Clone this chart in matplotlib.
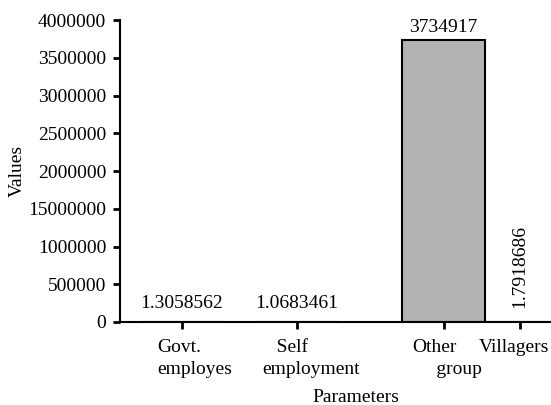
import matplotlib
matplotlib.use("Agg")
import matplotlib.pyplot as plt
from matplotlib.ticker import FixedLocator, FixedFormatter
from matplotlib.transforms import ScaledTranslation

plt.rcParams['font.family'] = ['Liberation Serif', 'DejaVu Serif']

categories = ["Govt.\nemployes", "   Self\nemployment", "Other\n     group", "Villagers"]
values = [1.3058562, 1.0683461, 3734917, 1.7918686]
value_labels = ["1.3058562", "1.0683461", "3734917", "1.7918686"]
ytick_values = [0, 500000, 1000000, 1500000, 2000000, 2500000, 3000000, 3500000, 4000000]
ytick_labels = ["0", "500000", "1000000", "15000000", "2000000", "2500000", "3000000", "3500000", "4000000"]

positions = [62, 177, 323.5, 400]
label_shift_px = [-25, -35, -31, -41]
bar_width = 83

fig = plt.figure(figsize=(5.51, 4.05), dpi=100)
ax = fig.add_axes([120/551, 1 - 322/405, 431/551, 302/405])

ax.bar(positions, values, width=bar_width, color="#b3b3b3", edgecolor="black", linewidth=1.5)

for i, (x, v, lab) in enumerate(zip(positions, values, value_labels)):
    if i == 3:
        ax.annotate(lab, (x, v), xytext=(0, 10), textcoords="offset points",
                    ha="center", va="bottom", rotation=90, fontsize=14)
    elif i == 2:
        ax.annotate(lab, (x, v), xytext=(0, 3), textcoords="offset points",
                    ha="center", va="bottom", fontsize=14)
    else:
        ax.annotate(lab, (x, v), xytext=(0, 7), textcoords="offset points",
                    ha="center", va="bottom", fontsize=14)

ax.set_xlim(0, 431)
ax.set_ylim(0, 4000000)
ax.set_xticks(positions)
ax.set_xticklabels(categories, fontsize=14, linespacing=1.4, ha="left", multialignment="left")
ax.yaxis.set_major_locator(FixedLocator(ytick_values))
ax.yaxis.set_major_formatter(FixedFormatter(ytick_labels))
ax.tick_params(axis='y', labelsize=14, length=5, width=2, pad=5)
ax.tick_params(axis='x', labelsize=14, length=5, width=2, pad=7)

for lbl, dx in zip(ax.get_xticklabels(), label_shift_px):
    lbl.set_transform(lbl.get_transform() + ScaledTranslation(dx/100, 0, fig.dpi_scale_trans))

for s in ["top", "right"]:
    ax.spines[s].set_visible(False)
for s in ["left", "bottom"]:
    ax.spines[s].set_linewidth(1.5)

ax.set_ylabel("Values", fontsize=14, labelpad=2)
ax.set_xlabel("Parameters", fontsize=14, labelpad=8)
ax.xaxis.label.set_x((356 - 120) / 431)

fig.savefig("out.png", dpi=100)
